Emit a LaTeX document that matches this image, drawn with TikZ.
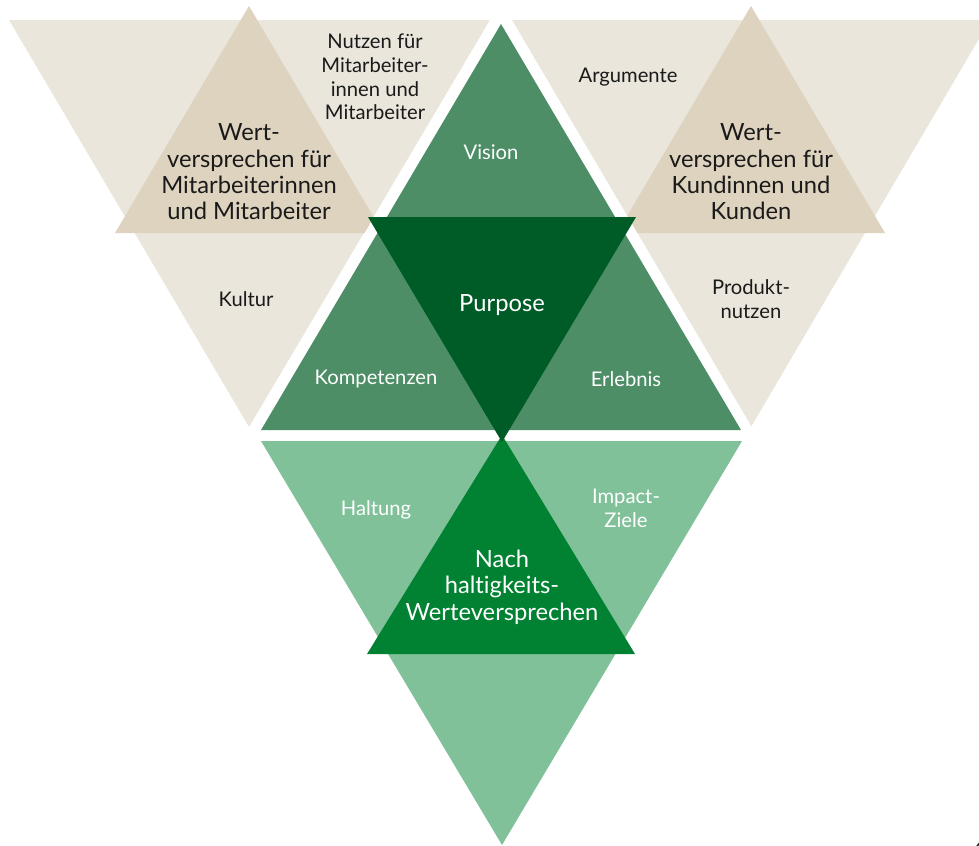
\documentclass[tikz,border=0pt]{standalone}
\usepackage{fontspec}
\setmainfont{Lato}[Ligatures=NoCommon]
\definecolor{beigelight}{HTML}{EAE6DC}
\definecolor{beigedark}{HTML}{DDD3BF}
\definecolor{greenmid}{HTML}{4D8E67}
\definecolor{greendark}{HTML}{005C26}
\definecolor{greenlight}{HTML}{80C199}
\definecolor{greenbright}{HTML}{008232}
\definecolor{textdark}{HTML}{1A1A1A}
\begin{document}
\begin{tikzpicture}[x=0.02cm,y=-0.02cm]
		\useasboundingbox (0,0) rectangle (979,845);

		% beige triangles, left and right
		\fill[beigelight] (9,20) -- (490,20) -- (249,427) -- cycle;
		\fill[beigedark] (249,6) -- (115,233) -- (383,233) -- cycle;
		\fill[beigelight] (512,20) -- (990,20) -- (751,427) -- cycle;
		\fill[beigedark] (751,6) -- (617,233) -- (885,233) -- cycle;

		% green triangles
		\fill[white] (501,2) -- (242,441) -- (760,441) -- cycle;
		\fill[greenlight] (261,441) -- (742,441) -- (502,845) -- cycle;
		\fill[greenmid] (501,24) -- (261,430) -- (741,430) -- cycle;
		\fill[greenbright] (502,435) -- (367,654) -- (635,654) -- cycle;
		\fill[greendark] (368,217) -- (636,217) -- (502,442) -- cycle;

		\begin{scope}[every node/.style={align=center, text=textdark, font=\fontsize{11.5}{13.5}\selectfont}]
			\node (nutzen) at (375,77) {Nutzen für\\Mitarbeiter-\\innen und\\Mitarbeiter};
			\node (kultur) at (246,299) {Kultur};
			\node (argumente) at (628,77) {Argumente};
			\node (produkt) at (751,299) {Produkt-\\nutzen};
		\end{scope}

		\begin{scope}[every node/.style={align=center, text=textdark, font=\fontsize{13.5}{15}\selectfont}]
			\node (wertMA) at (249,172) {Wert-\\versprechen für\\Mitarbeiterinnen\\und Mitarbeiter};
			\node (wertKU) at (751,172) {Wert-\\versprechen für\\Kundinnen und\\Kunden};
		\end{scope}

		\begin{scope}[every node/.style={align=center, text=white, font=\fontsize{11.5}{13.5}\selectfont}]
			\node (vision) at (491,152) {Vision};
			\node (kompetenzen) at (376,379) {Kompetenzen};
			\node (erlebnis) at (626,379) {Erlebnis};
			\node (haltung) at (376,510) {Haltung};
			\node (impact) at (626,508) {Impact-\\Ziele};
		\end{scope}

		\begin{scope}[every node/.style={align=center, text=white, font=\fontsize{13.5}{15}\selectfont}]
			\node (purpose) at (502,305) {Purpose};
			\node (nachhaltig) at (502,587) {Nach\\haltigkeits-\\Werteversprechen};
		\end{scope}

		\node[text=textdark, font=\fontsize{11.5}{13.5}\selectfont] (seite) at (978,850) {6};

	\end{tikzpicture}
\end{document}
